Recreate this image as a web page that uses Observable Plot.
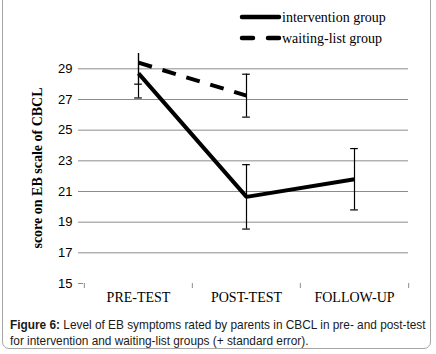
<!DOCTYPE html>
<html>
<head>
<meta charset="utf-8">
<script src="https://cdn.jsdelivr.net/npm/d3@7"></script>
<script src="https://cdn.jsdelivr.net/npm/@observablehq/plot@0.6"></script>
<style>
  html, body { margin: 0; padding: 0; background: #fff; }
  #wrap { position: relative; width: 436px; height: 354px; overflow: hidden; }
  #border { position: absolute; left: 2px; top: -6px; width: 429px; height: 355px;
    border: 1.5px solid #a6a6a6; border-radius: 7px; box-sizing: border-box; }
  #chart { position: absolute; left: 0; top: 0; }
  #caption { position: absolute; left: 10px; top: 317px; font-family: "Liberation Sans", Arial, sans-serif;
    font-size: 11.85px; line-height: 16px; color: #1a1a1a; white-space: nowrap; }
</style>
</head>
<body>
<div id="wrap">
  <div id="border"></div>
  <div id="chart"></div>
  <div id="caption"><b>Figure 6:</b> Level of EB symptoms rated by parents in CBCL in pre- and post-test<br>for intervention and waiting-list groups (+ standard error).</div>
</div>
<script>
const categories = ["PRE-TEST", "POST-TEST", "FOLLOW-UP"];
const interventionValues = [28.7, 20.65, 21.8];
const interventionErrors = [1.6, 2.1, 2.0];
const waitingCategories = ["PRE-TEST", "POST-TEST"];
const waitingValues = [29.4, 27.25];
const waitingErrors = [1.4, 1.4];
const yTicks = [15, 17, 19, 21, 23, 25, 27, 29];
const yMax = 30;
const groups = ["intervention group", "waiting-list group"];

const intervention = categories.map((c, i) => ({cat: c, v: interventionValues[i], e: interventionErrors[i]}));
const waiting = waitingCategories.map((c, i) => ({cat: c, v: waitingValues[i], e: waitingErrors[i]}));
const all = intervention.concat(waiting);
const lowCaps = all.filter(d => d.v - d.e >= 15);
const highCaps = all.filter(d => d.v + d.e <= yMax);

const W = 436, H = 310, mL = 83, mR = 28, mT = 53, mB = 27;
const bw = (W - mL - mR) / categories.length;

const plot = Plot.plot({
  width: W, height: H,
  marginLeft: mL, marginRight: mR, marginTop: mT, marginBottom: mB,
  style: {fontFamily: "'Liberation Serif', 'Times New Roman', serif", background: "transparent", color: "black"},
  x: {domain: categories, padding: 0, label: null},
  y: {domain: [15, yMax], label: null},
  marks: [
    Plot.gridY(yTicks.filter(t => t > 15), {stroke: "#8c8c8c", strokeOpacity: 1, strokeWidth: 1}),
    Plot.axisY(yTicks, {tickSize: 5, tickPadding: 6, stroke: "#8c8c8c", fill: "black", line: true,
      fontSize: 13, fontFamily: "'Liberation Sans', Arial, sans-serif", label: null}),
    Plot.axisX({tickSize: 0, tickPadding: 9, line: true, stroke: "#8c8c8c", fill: "black", fontSize: 14, label: null}),
    Plot.ruleX(categories, {x: d => d, dx: -bw / 2, insetTop: H - mT - mB, insetBottom: -5, stroke: "#8c8c8c"}),
    Plot.ruleX(categories.slice(-1), {x: d => d, dx: bw / 2, insetTop: H - mT - mB, insetBottom: -5, stroke: "#8c8c8c"}),
    Plot.ruleX(all, {x: "cat", y1: d => d.v - d.e, y2: d => Math.min(d.v + d.e, yMax), stroke: "black", strokeWidth: 1.2}),
    Plot.tickY(lowCaps, {x: "cat", y: d => d.v - d.e, insetLeft: bw / 2 - 4, insetRight: bw / 2 - 4, stroke: "black", strokeWidth: 1.2}),
    Plot.tickY(highCaps, {x: "cat", y: d => d.v + d.e, insetLeft: bw / 2 - 4, insetRight: bw / 2 - 4, stroke: "black", strokeWidth: 1.2}),
    Plot.line(waiting, {x: "cat", y: "v", stroke: "black", strokeWidth: 4, strokeDasharray: "14,11", strokeLinecap: "butt"}),
    Plot.line(intervention, {x: "cat", y: "v", stroke: "black", strokeWidth: 4, strokeLinejoin: "miter", strokeLinecap: "butt"})
  ]
});

const svg = d3.select(plot);
// y-axis title
svg.append("text")
  .attr("transform", `translate(42,${mT + (H - mT - mB) / 2}) rotate(-90)`)
  .attr("text-anchor", "middle")
  .attr("font-weight", "bold")
  .attr("font-size", 14)
  .attr("fill", "black")
  .text("score on EB scale of CBCL");
// legend
const lg = svg.append("g").attr("font-size", 14).attr("fill", "black").attr("text-anchor", "start");
groups.forEach((g, i) => {
  const y = 17 + i * 21;
  lg.append("line").attr("x1", 242).attr("x2", 279).attr("y1", y).attr("y2", y)
    .attr("stroke", "black").attr("stroke-width", 4.5).attr("stroke-linecap", "round")
    .attr("stroke-dasharray", i === 1 ? "11,15" : null);
  lg.append("text").attr("x", 282).attr("y", y + 5).attr("text-anchor", "start").text(g);
});

document.getElementById("chart").appendChild(plot);
</script>
</body>
</html>
